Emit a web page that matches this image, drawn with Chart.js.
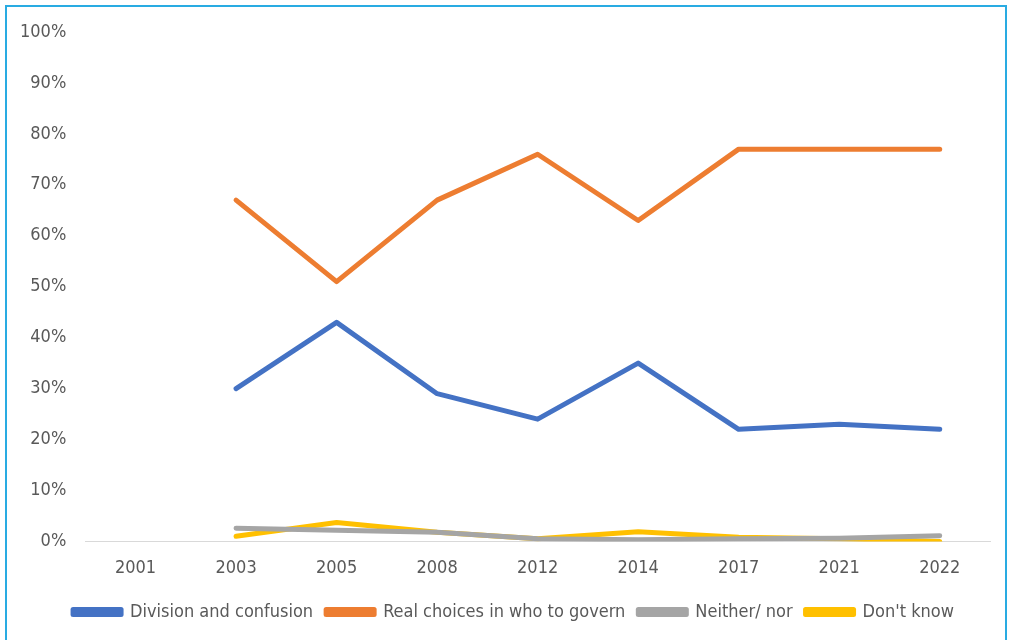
<!DOCTYPE html>
<html>
<head>
<meta charset="utf-8">
<script src="https://cdn.jsdelivr.net/npm/chart.js@4"></script>
<style>
  html, body { margin: 0; padding: 0; background: #fff; overflow: hidden; }
  #frame { position: absolute; left: 5px; top: 5px; width: 998px; height: 700px; border: 2px solid #29abe2; }
  #wrap { position: absolute; left: 0; top: 0; width: 1010px; height: 640px; }
</style>
</head>
<body>
<div id="frame"></div>
<div id="wrap"><canvas id="chart" width="1010" height="640"></canvas></div>
<script>
const years = ["2001", "2003", "2005", "2008", "2012", "2014", "2017", "2021", "2022"];
const division = [null, 30, 43, 29, 24, 35, 22, 23, 22];
const realChoices = [null, 67, 51, 67, 76, 63, 77, 77, 77];
const neither = [null, 2.6, 2.2, 1.8, 0.5, 0.3, 0.5, 0.6, 1.1];
const dontKnow = [null, 1, 3.7, 1.8, 0.5, 1.9, 0.8, 0.5, 0];

const font = "'DejaVu Sans Condensed', 'Liberation Sans Narrow', sans-serif";

function line(label, data, color) {
  return {
    label, data,
    borderColor: color,
    backgroundColor: color,
    borderWidth: 5,
    pointRadius: 0,
    tension: 0,
    borderCapStyle: "round",
    borderJoinStyle: "round"
  };
}

// legend sits a bit right of centre in the original
const legendShift = {
  id: "legendShift",
  afterLayout(chart) {
    chart.legend.left += 14;
    chart.legend.right += 14;
  }
};

new Chart(document.getElementById("chart"), {
  type: "line",
  data: {
    labels: years,
    datasets: [
      line("Division and confusion", division, "#4472c4"),
      line("Real choices in who to govern", realChoices, "#ed7d31"),
      line("Neither/ nor", neither, "#a5a5a5"),
      line("Don't know", dontKnow, "#ffc000")
    ]
  },
  plugins: [legendShift],
  options: {
    responsive: false,
    animation: false,
    layout: { padding: { left: 9, right: 20, top: 32, bottom: 9 } },
    plugins: {
      legend: {
        position: "bottom",
        labels: {
          boxWidth: 48,
          boxHeight: 5,
          padding: 13,
          color: "#595959",
          font: { family: font, size: 18 }
        }
      },
      tooltip: { enabled: false }
    },
    scales: {
      x: {
        offset: true,
        grid: { display: false },
        border: { color: "#d9d9d9", width: 1 },
        ticks: { color: "#595959", font: { family: font, size: 18 }, padding: 8, maxRotation: 0 },
        afterFit: s => { s.height += 3; }
      },
      y: {
        min: 0, max: 100,
        grid: { display: false },
        border: { display: false },
        ticks: {
          stepSize: 10,
          padding: 11,
          color: "#595959",
          font: { family: font, size: 18 },
          callback: v => v + "%"
        }
      }
    }
  }
});
</script>
</body>
</html>
